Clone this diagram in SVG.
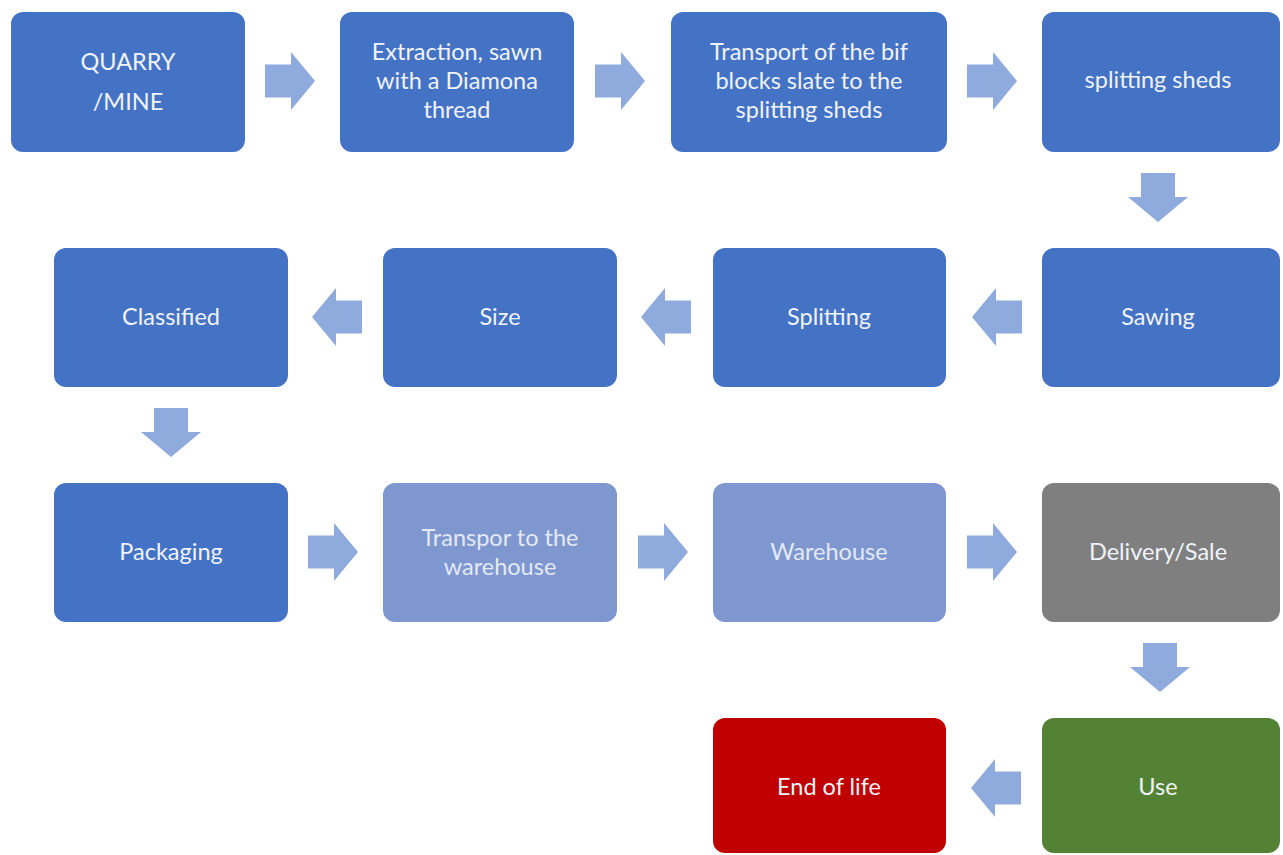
<svg xmlns="http://www.w3.org/2000/svg" width="1283" height="855" viewBox="0 0 1283 855">
<defs>
<style>
.box{fill:#4472C4;}
.lt{fill:#7F97CF;}
.gray{fill:#7F7F7F;}
.red{fill:#C00000;}
.green{fill:#548235;}
.arr{fill:#8FAADC;}
text{font-family:Lato,"Open Sans","Liberation Sans",sans-serif;font-size:23.5px;fill:#F0F3FA;text-anchor:middle;}
text.dim{fill:#E3E9F6;}
</style>
<path id="ar" class="arr" d="M0,-16.5 H26 V-29 L50,0 L26,29 V16.5 H0 Z"/>
<path id="ad" class="arr" d="M-17,0 H17 V24 H30 L0,49 L-30,24 H-17 Z"/>
</defs>
<rect width="1283" height="855" fill="#FFFFFF"/>
<g id="connectors">
<use href="#ar" x="265" y="81"/>
<use href="#ar" x="595" y="81"/>
<use href="#ar" x="967" y="81"/>
<use href="#ad" x="1158" y="173"/>
<use href="#ar" transform="translate(1022,317) scale(-1,1)"/>
<use href="#ar" transform="translate(691,317) scale(-1,1)"/>
<use href="#ar" transform="translate(362,317) scale(-1,1)"/>
<use href="#ad" x="171" y="408"/>
<use href="#ar" x="308" y="552"/>
<use href="#ar" x="638" y="552"/>
<use href="#ar" x="967" y="552"/>
<use href="#ad" x="1160" y="643"/>
<use href="#ar" transform="translate(1021,788) scale(-1,1)"/>
</g>
<g id="n1"><rect class="box" x="11" y="12" width="234" height="140" rx="12"/><text x="128" y="70">QUARRY</text><text x="128" y="110">/MINE</text></g>
<g id="n2"><rect class="box" x="340" y="12" width="234" height="140" rx="12"/><text x="457" y="60">Extraction, sawn</text><text x="457" y="89">with a Diamona</text><text x="457" y="118">thread</text></g>
<g id="n3"><rect class="box" x="671" y="12" width="276" height="140" rx="12"/><text x="809" y="60">Transport of the bif</text><text x="809" y="89">blocks slate to the</text><text x="809" y="118">splitting sheds</text></g>
<g id="n4"><rect class="box" x="1042" y="12" width="238" height="140" rx="12"/><text x="1158" y="88">splitting sheds</text></g>
<g id="n5"><rect class="box" x="1042" y="248" width="238" height="139" rx="12"/><text x="1158" y="325">Sawing</text></g>
<g id="n6"><rect class="box" x="713" y="248" width="233" height="139" rx="12"/><text x="829" y="325">Splitting</text></g>
<g id="n7"><rect class="box" x="383" y="248" width="234" height="139" rx="12"/><text x="500" y="325">Size</text></g>
<g id="n8"><rect class="box" x="54" y="248" width="234" height="139" rx="12"/><text x="171" y="325">Classified</text></g>
<g id="n9"><rect class="box" x="54" y="483" width="234" height="139" rx="12"/><text x="171" y="560">Packaging</text></g>
<g id="n10"><rect class="lt" x="383" y="483" width="234" height="139" rx="12"/><text class="dim" x="500" y="546">Transpor to the</text><text class="dim" x="500" y="575">warehouse</text></g>
<g id="n11"><rect class="lt" x="713" y="483" width="233" height="139" rx="12"/><text class="dim" x="829" y="560">Warehouse</text></g>
<g id="n12"><rect class="gray" x="1042" y="483" width="238" height="139" rx="12"/><text x="1158" y="560">Delivery/Sale</text></g>
<g id="n13"><rect class="green" x="1042" y="718" width="238" height="135" rx="12"/><text x="1158" y="795">Use</text></g>
<g id="n14"><rect class="red" x="713" y="718" width="233" height="135" rx="12"/><text x="829" y="795">End of life</text></g>
</svg>
